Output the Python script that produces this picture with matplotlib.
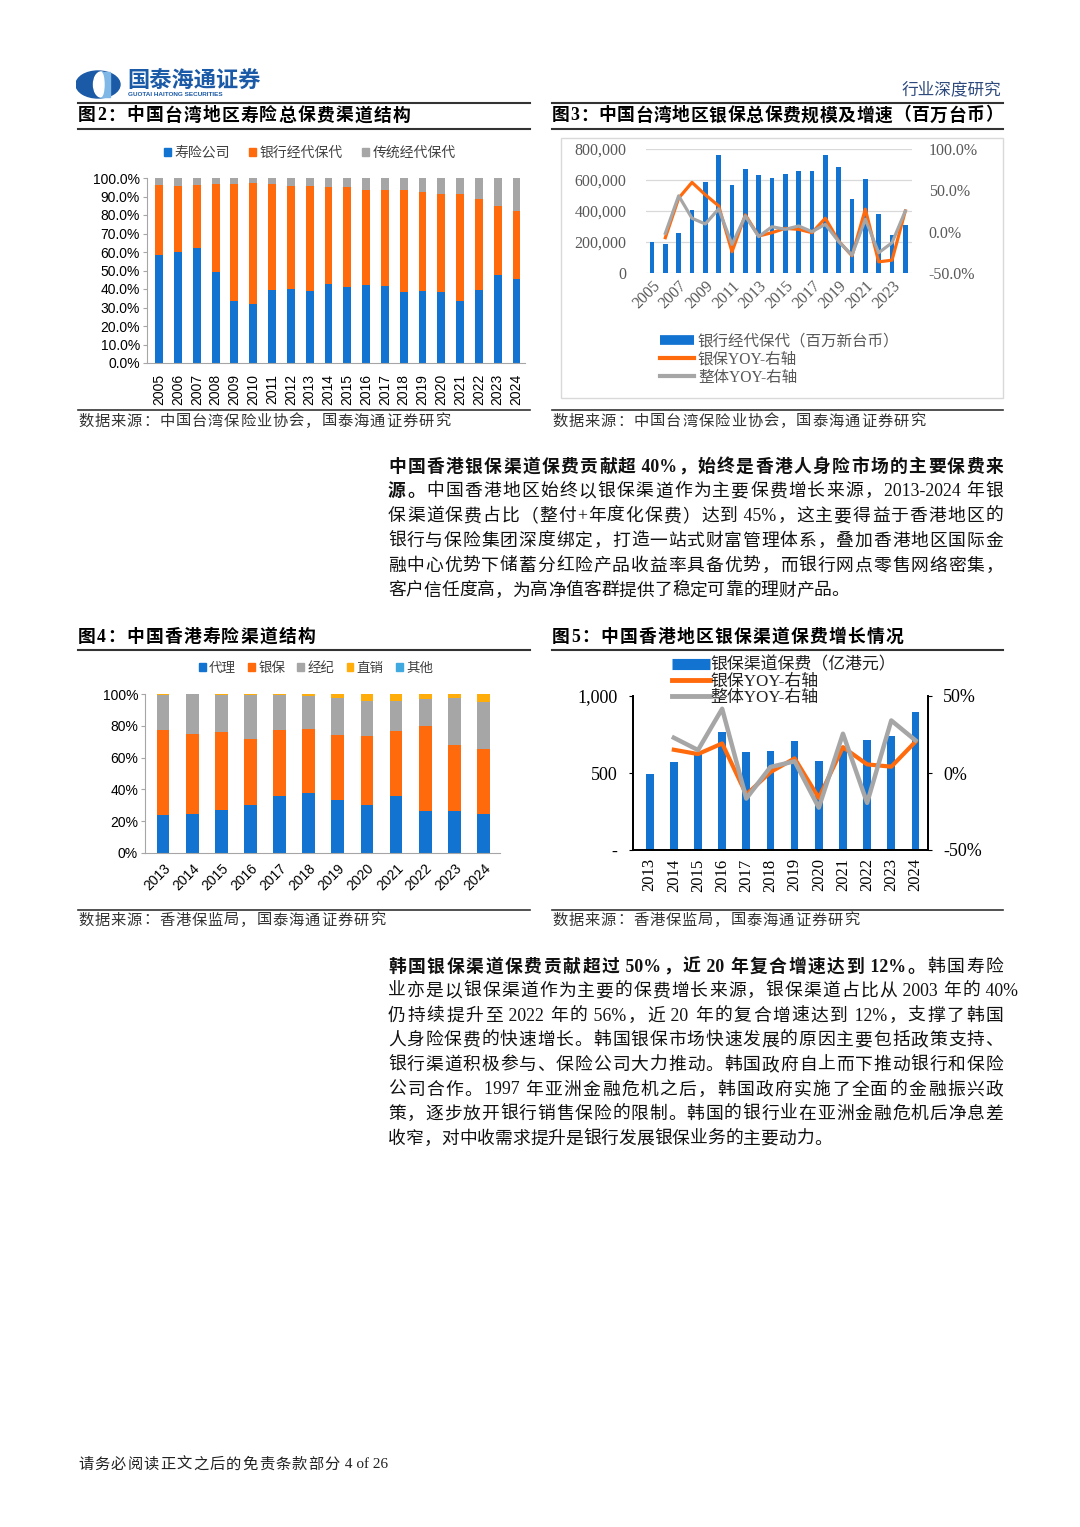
import re
import numpy as np
import matplotlib.pyplot as plt
from matplotlib.lines import Line2D
from matplotlib.patches import Patch, Rectangle, Ellipse

SANS = ['Liberation Sans', 'Noto Sans CJK SC']
SERIF = ['Liberation Serif', 'Noto Sans CJK SC']
CJK = ['Noto Sans CJK SC', 'DejaVu Sans']
plt.rcParams['font.family'] = SANS

BLUE = '#1273D0'
ORANGE = '#FF6A0D'
GRAY = '#A6A6A6'
YELLOW = '#FFAD0A'
LBLUE = '#3FA9E0'

# ---- 图2 中国台湾寿险渠道结构 (%)
tw_years = [str(y) for y in range(2005, 2025)]
tw_life = [58.6, 60.0, 62.0, 49.2, 33.7, 32.1, 39.5, 40.0, 38.9, 42.7,
           41.1, 42.0, 41.6, 38.4, 39.1, 38.6, 33.7, 39.3, 47.7, 45.2]
tw_bank = [37.6, 35.9, 34.2, 47.7, 63.2, 65.2, 57.1, 55.9, 57.0, 52.6,
           53.9, 51.7, 52.1, 55.3, 53.5, 52.6, 57.8, 49.2, 37.0, 36.8]
tw_trad = [3.8, 4.1, 3.8, 3.1, 3.1, 2.7, 3.4, 4.1, 4.1, 4.7,
           5.0, 6.3, 6.3, 6.3, 7.4, 8.8, 8.5, 11.5, 15.3, 18.0]

# ---- 图3 中国台湾银保保费 (百万台币) 及增速 (%)
tw_bank_prem = [201000, 186000, 259000, 409000, 588000, 761000, 569000, 668000, 631000, 614000,
                638000, 659000, 659000, 763000, 685000, 480000, 605000, 380000, 246000, 309000]
tw_bank_yoy = [np.nan, -7.3, 40.5, 59.6, 44.6, 31.2, -24.3, 20.3, -5.3, -1.2,
               4.0, 2.8, -1.2, 16.2, -11.4, -29.2, 27.2, -36.5, -34.5, 25.1]
tw_total_yoy = [np.nan, -2.0, 43.4, 16.2, 9.3, 27.6, -15.4, 19.0, -6.0, 6.0,
                2.8, 6.9, 0.0, 8.9, -12.0, -28.4, 15.0, -25.5, -13.4, 25.0]

# ---- 图4 中国香港寿险渠道结构 (%)
hk_years = [str(y) for y in range(2013, 2025)]
hk_agency = [23.6, 24.6, 27.2, 30.1, 35.8, 37.9, 33.5, 30.1, 35.8, 26.6, 26.6, 24.7]
hk_bank = [54.0, 50.5, 49.2, 41.7, 41.4, 40.1, 40.8, 43.7, 41.0, 53.1, 41.2, 40.4]
hk_broker = [22.0, 24.7, 23.2, 27.6, 22.2, 21.0, 23.0, 21.8, 18.8, 17.0, 29.7, 30.1]
hk_direct = [0.3, 0.1, 0.3, 0.5, 0.5, 0.9, 2.6, 4.3, 4.3, 3.2, 2.4, 4.7]
hk_other = [0.1, 0.1, 0.1, 0.1, 0.1, 0.1, 0.1, 0.1, 0.1, 0.1, 0.1, 0.1]

# ---- 图5 中国香港银保保费 (亿港元) 及增速 (%)
hk_bank_prem = [496, 572, 622, 767, 639, 644, 706, 581, 652, 713, 741, 896]
hk_bank_yoy = [np.nan, 15.1, 12.3, 19.2, -14.0, 0.6, 9.5, -16.2, 16.8, 5.6, 4.1, 20.3]
hk_total_yoy = [np.nan, 22.9, 14.9, 41.7, -16.6, 3.9, 7.6, -22.5, 25.5, -19.4, 34.1, 21.2]

W, H = 1080, 1527
fig = plt.figure(figsize=(W / 100, H / 100), dpi=100)
renderer = fig.canvas.get_renderer()


def px_ax(l, t, r, b):
    return fig.add_axes([l / W, 1 - b / H, (r - l) / W, (b - t) / H])


def ftext(x, y, s, **kw):
    kw.setdefault('va', 'center')
    return fig.text(x / W, 1 - y / H, s, **kw)


def hline(x0, x1, y, lw=1.2, color='#333333'):
    fig.add_artist(Line2D([x0 / W, x1 / W], [1 - y / H, 1 - y / H], lw=lw, color=color))


def jline(x0, y, parts, right=None, size=13.2, family=SERIF, color='#111111', bold_all=False):
    # one line of text, stretched to end at `right` like the justified pdf text
    toks = []
    for s, bold in parts:
        for tk in re.findall(r'[\x00-\x7f]+|.', s):
            t = ftext(x0, y, tk, fontsize=size, family=family, color=color,
                      fontweight='bold' if (bold or bold_all) else 'normal')
            toks.append((t, t.get_window_extent(renderer).width))
    natural = sum(w for _, w in toks)
    gap = 0
    if right is not None and len(toks) > 1:
        gap = (right - x0 - natural) / (len(toks) - 1)
    x = x0
    for t, w in toks:
        t.set_x(x / W)
        x += w + gap


# ---------------- header
logo = px_ax(76, 70, 122, 99)
logo.set_xlim(0, 46)
logo.set_ylim(0, 29)
logo.axis('off')
logo.add_patch(Ellipse((22, 14.5), 44, 27, color='#1B5AA6'))
logo.add_patch(Ellipse((25, 14.5), 15, 25, color='white'))
logo.add_patch(Rectangle((25, 2), 9, 25, color='#7FB7E6'))
logo.add_patch(Ellipse((25, 14.5), 6, 24, color='white'))
ftext(127, 81, '国泰海通证券', fontsize=16, fontweight='bold', color='#1B5AA6', family=CJK)
ftext(128, 95, 'GUOTAI HAITONG SECURITIES', fontsize=4.6, fontweight='bold', color='#1B5AA6')
ftext(1001, 90, '行业深度研究', fontsize=12, color='#2E4A7D', family=CJK, ha='right')

for x0, x1 in [(78, 530), (552, 1003)]:
    hline(x0, x1, 103, lw=1.5)
    hline(x0, x1, 129, lw=1.5)
    hline(x0, x1, 410, lw=1.2)
    hline(x0, x1, 650, lw=1.5)
    hline(x0, x1, 910, lw=1.2)

jline(78, 116, [('图2：中国台湾地区寿险总保费渠道结构', True)], right=410, size=12.8, color='black')
jline(552, 116, [('图3：中国台湾地区银保总保费规模及增速（百万台币）', True)], right=1003, size=12.8, color='black')
jline(78, 637, [('图4：中国香港寿险渠道结构', True)], right=315, size=12.8, color='black')
jline(552, 637, [('图5：中国香港地区银保渠道保费增长情况', True)], right=903, size=12.8, color='black')

src_tw = [('数据来源：中国台湾保险业协会，国泰海通证券研究', False)]
src_hk = [('数据来源：香港保监局，国泰海通证券研究', False)]
jline(78, 422, src_tw, right=450, size=11, color='#333333')
jline(552, 422, src_tw, right=925, size=11, color='#333333')
jline(78, 921, src_hk, right=385, size=11, color='#333333')
jline(552, 921, src_hk, right=859, size=11, color='#333333')

# ---------------- 图2
ax2 = px_ax(147, 178, 525, 363)
x = np.arange(len(tw_years))
life = np.array(tw_life)
bank = np.array(tw_bank)
ax2.bar(x, life, 0.42, color=BLUE)
ax2.bar(x, bank, 0.42, bottom=life, color=ORANGE)
ax2.bar(x, tw_trad, 0.42, bottom=life + bank, color=GRAY)
ax2.set_xlim(-0.65, len(x) - 0.55)
ax2.set_ylim(0, 100)
ax2.set_yticks(np.arange(0, 101, 10))
ax2.set_yticklabels([f'{v:.1f}%' for v in np.arange(0, 101, 10)], fontsize=10)
ax2.set_xticks(x)
ax2.set_xticklabels(tw_years, rotation=90, fontsize=10)
ax2.tick_params(axis='x', length=0, pad=8)
ax2.tick_params(axis='y', length=3, color='#A6A6A6', pad=2)
for s in ['top', 'right']:
    ax2.spines[s].set_visible(False)
for s in ['left', 'bottom']:
    ax2.spines[s].set_color('#A6A6A6')
ax2.legend([Patch(color=BLUE), Patch(color=ORANGE), Patch(color=GRAY)],
           ['寿险公司', '银行经代保代', '传统经代保代'], loc='center',
           bbox_to_anchor=(310 / W, 1 - 153 / H), bbox_transform=fig.transFigure,
           ncol=3, frameon=False, prop={'family': CJK, 'size': 10}, labelcolor='#404040',
           handlelength=0.5, handleheight=0.5, handletextpad=0.25, columnspacing=1.4)

# ---------------- 图3
fig.add_artist(Rectangle((561 / W, 1 - 398 / H), (1003 - 561) / W, (398 - 138) / H,
                         fill=False, ec='#D9D9D9', lw=1, transform=fig.transFigure))
ax3 = px_ax(646, 149, 912, 273)
ax3.bar(x, tw_bank_prem, 0.33, color=BLUE, zorder=2)
ax3.set_ylim(0, 800000)
ax3.set_xlim(-0.45, len(x) - 0.5)
ax3.set_yticks(np.arange(0, 800001, 200000))
ax3.set_yticklabels(['0', '200,000', '400,000', '600,000', '800,000'], family=SERIF, fontsize=11.5, color='#595959')
ax3.grid(axis='y', color='#D9D9D9', lw=0.9, zorder=0)
ax3.set_xticks(x[::2])
ax3.set_xticklabels(tw_years[::2], rotation=45, ha='right', rotation_mode='anchor',
                    family=SERIF, fontsize=11.5, color='#595959')
ax3.tick_params(length=0)
ax3.tick_params(axis='y', pad=14)
ax3r = ax3.twinx()
ax3r.plot(x, tw_bank_yoy, color=ORANGE, lw=2.3)
ax3r.plot(x, tw_total_yoy, color=GRAY, lw=2.3)
ax3r.set_ylim(-50, 100)
ax3r.set_yticks([-50, 0, 50, 100])
ax3r.set_yticklabels(['-50.0%', '0.0%', '50.0%', '100.0%'], family=SERIF, fontsize=11.5, color='#595959')
ax3r.tick_params(length=0, pad=12)
for a in (ax3, ax3r):
    for s in a.spines.values():
        s.set_visible(False)
fig.legend([Line2D([], [], color=BLUE, lw=7, solid_capstyle='butt'),
            Line2D([], [], color=ORANGE, lw=3),
            Line2D([], [], color=GRAY, lw=3)],
           ['银行经代保代（百万新台币）', '银保YOY-右轴', '整体YOY-右轴'],
           loc='upper left', bbox_to_anchor=(652 / W, 1 - 326 / H), frameon=False,
           prop={'family': SERIF, 'size': 11.2}, labelcolor='#595959',
           handlelength=2.2, handletextpad=0.25, labelspacing=0.12, borderpad=0)

# ---------------- 图4
ax4 = px_ax(145, 694, 500, 853)
x4 = np.arange(len(hk_years))
bottom = np.zeros(len(x4))
for vals, c in [(hk_agency, BLUE), (hk_bank, ORANGE), (hk_broker, GRAY),
                (hk_direct, YELLOW), (hk_other, LBLUE)]:
    ax4.bar(x4, vals, 0.44, bottom=bottom, color=c)
    bottom = bottom + np.array(vals)
ax4.set_xlim(-0.62, len(x4) - 0.43)
ax4.set_ylim(0, 100)
ax4.set_yticks(np.arange(0, 101, 20))
ax4.set_yticklabels([f'{v}%' for v in range(0, 101, 20)], fontsize=10)
ax4.set_xticks(x4)
ax4.set_xticklabels(hk_years, rotation=45, ha='right', rotation_mode='anchor', fontsize=10)
ax4.tick_params(axis='x', length=0, pad=6)
ax4.tick_params(axis='y', length=3, color='#A6A6A6', pad=2)
for s in ['top', 'right']:
    ax4.spines[s].set_visible(False)
for s in ['left', 'bottom']:
    ax4.spines[s].set_color('#A6A6A6')
ax4.legend([Patch(color=c) for c in [BLUE, ORANGE, GRAY, YELLOW, LBLUE]],
           ['代理', '银保', '经纪', '直销', '其他'], loc='center',
           bbox_to_anchor=(316 / W, 1 - 668 / H), bbox_transform=fig.transFigure,
           ncol=5, frameon=False, prop={'family': CJK, 'size': 9.7}, labelcolor='#404040',
           handlelength=0.5, handleheight=0.5, handletextpad=0.25, columnspacing=0.9)

# ---------------- 图5
ax5 = px_ax(633, 696, 928, 850)
ax5.bar(x4, hk_bank_prem, 0.32, color=BLUE)
ax5.set_xlim(-0.69, len(x4) - 0.48)
ax5.set_ylim(0, 1000)
ax5.set_yticks([0, 500, 1000])
ax5.set_yticklabels(['-', '500', '1,000'], family=SERIF, fontsize=13)
ax5.set_xticks(x4)
ax5.set_xticklabels(hk_years, rotation=90, family=SERIF, fontsize=12)
ax5.tick_params(axis='x', length=0, pad=6)
ax5.tick_params(axis='y', length=3, pad=8)
ax5r = ax5.twinx()
ax5r.plot(x4, hk_bank_yoy, color=ORANGE, lw=3)
ax5r.plot(x4, hk_total_yoy, color=GRAY, lw=3.2)
ax5r.set_ylim(-50, 50)
ax5r.set_yticks([-50, 0, 50])
ax5r.set_yticklabels(['-50%', '0%', '50%'], family=SERIF, fontsize=13)
ax5r.tick_params(axis='y', length=3, pad=8)
for a in (ax5, ax5r):
    a.spines['top'].set_visible(False)
    for s in ['left', 'right', 'bottom']:
        a.spines[s].set_linewidth(1.3)
fig.legend([Line2D([], [], color=BLUE, lw=8, solid_capstyle='butt'),
            Line2D([], [], color=ORANGE, lw=3.5),
            Line2D([], [], color=GRAY, lw=3.5)],
           ['银保渠道保费（亿港元）', '银保YOY-右轴', '整体YOY-右轴'],
           loc='upper left', bbox_to_anchor=(664 / W, 1 - 649 / H), frameon=False,
           prop={'family': SERIF, 'size': 12.2}, labelcolor='#222222',
           handlelength=2.2, handletextpad=0.05, labelspacing=0.0, borderpad=0)

# ---------------- 正文
lines1 = [
    [('中国香港银保渠道保费贡献超 40%，始终是香港人身险市场的主要保费来', True)],
    [('源。', True), ('中国香港地区始终以银保渠道作为主要保费增长来源，2013-2024 年银', False)],
    [('保渠道保费占比（整付+年度化保费）达到 45%，这主要得益于香港地区的', False)],
    [('银行与保险集团深度绑定，打造一站式财富管理体系，叠加香港地区国际金', False)],
    [('融中心优势下储蓄分红险产品收益率具备优势，而银行网点零售网络密集，', False)],
    [('客户信任度高，为高净值客群提供了稳定可靠的理财产品。', False)],
]
for i, parts in enumerate(lines1):
    jline(388, 467 + i * 24.8, parts, right=None if i == len(lines1) - 1 else 1003, size=12.8)

lines2 = [
    [('韩国银保渠道保费贡献超过 50%，近 20 年复合增速达到 12%。', True), ('韩国寿险', False)],
    [('业亦是以银保渠道作为主要的保费增长来源，银保渠道占比从 2003 年的 40%', False)],
    [('仍持续提升至 2022 年的 56%，近 20 年的复合增速达到 12%，支撑了韩国', False)],
    [('人身险保费的快速增长。韩国银保市场快速发展的原因主要包括政策支持、', False)],
    [('银行渠道积极参与、保险公司大力推动。韩国政府自上而下推动银行和保险', False)],
    [('公司合作。1997 年亚洲金融危机之后，韩国政府实施了全面的金融振兴政', False)],
    [('策，逐步放开银行销售保险的限制。韩国的银行业在亚洲金融危机后净息差', False)],
    [('收窄，对中收需求提升是银行发展银保业务的主要动力。', False)],
]
rights2 = [1003, 1018, 1003, 1003, 1003, 1003, 1003, None]
for i, parts in enumerate(lines2):
    jline(388, 967 + i * 24.6, parts, right=rights2[i], size=12.8)

jline(78, 1465, [('请务必阅读正文之后的免责条款部分 4 of 26', False)], right=388, size=11, color='#222222')

fig.savefig('out.png', dpi=100)
